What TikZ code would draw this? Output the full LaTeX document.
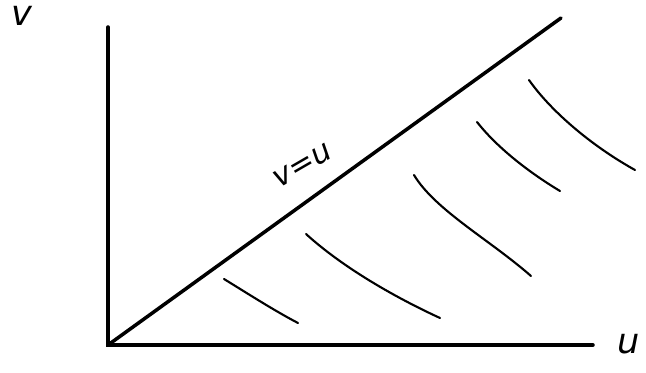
\documentclass[tikz,border=0pt]{standalone}
\usepackage{fontspec}
\setmainfont{DejaVu Sans}
\begin{document}
\begin{tikzpicture}[x=0.03cm,y=-0.03cm,
  axis/.style={line width=3pt,line cap=round},
  level/.style={line width=1.8pt,line cap=round},
  hand/.style={font=\fontsize{30}{30}\selectfont\itshape, inner sep=0pt}]
\useasboundingbox (0,0) rectangle (646,373);
\coordinate (O) at (108,345);
\coordinate (Ytop) at (108,27);
\coordinate (Xend) at (593,345);
\coordinate (Dend) at (561,18);
\draw[axis] (Ytop) -- (O) -- (Xend);
\draw[axis] (O) -- (Dend);
\node[hand] (vlab) at (22,16) {v};
\node[hand] (ulab) at (629,344) {u};
\node[hand,font=\fontsize{26}{26}\selectfont\itshape,rotate=30] (dlab) at (303,166) {v=u};
\draw[level] (224,279) .. controls (250,295) and (275,311) .. (298,323);
\draw[level] (306,234) .. controls (340,265) and (390,295) .. (440,318);
\draw[level] (414,175) .. controls (435,210) and (490,240) .. (531,276);
\draw[level] (477,122) .. controls (495,145) and (525,170) .. (560,191);
\draw[level] (529,80) .. controls (550,110) and (590,145) .. (635,170);
\end{tikzpicture}
\end{document}
